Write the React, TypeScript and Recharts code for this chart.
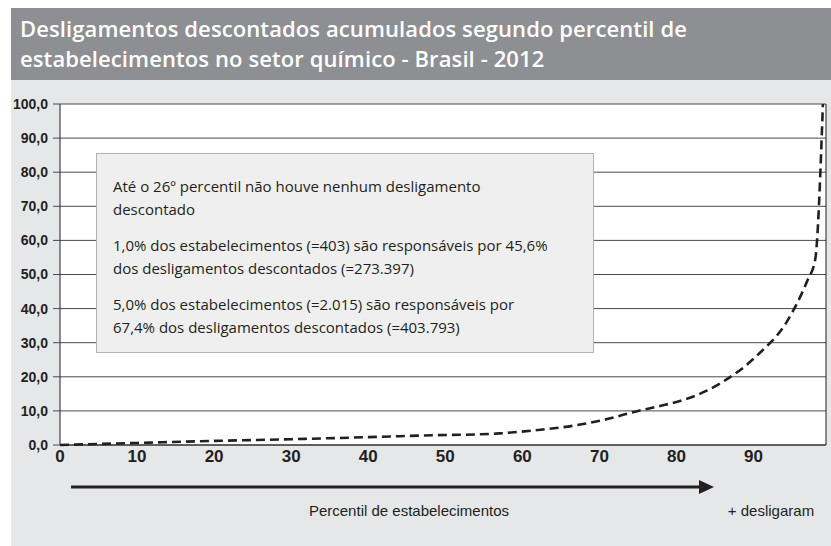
import React from "react";
import { LineChart, Line, XAxis, YAxis, CartesianGrid, ReferenceLine } from "recharts";

const percentis = [0, 10, 20, 30, 40, 49, 54, 57, 62, 67, 71, 75, 78, 81, 84, 87, 89, 90, 91, 92, 93, 94, 95, 96, 97, 98, 99];
const acumulado = [0, 0.6, 1.2, 1.7, 2.3, 2.9, 3.1, 3.4, 4.4, 5.8, 7.6, 10, 11.5, 13.3, 16, 20, 23.3, 25.3, 27.4, 29.6, 32, 35, 38.8, 43.2, 48.3, 54.4, 100];
const xTicks = [0, 10, 20, 30, 40, 50, 60, 70, 80, 90];
const yTicks = [0, 10, 20, 30, 40, 50, 60, 70, 80, 90, 100];

const titleLines = [
  "Desligamentos descontados acumulados segundo percentil de",
  "estabelecimentos no setor químico - Brasil - 2012",
];
const notes = [
  ["Até o 26º percentil não houve nenhum desligamento", "descontado"],
  ["1,0% dos estabelecimentos (=403) são responsáveis por 45,6%", "dos desligamentos descontados (=273.397)"],
  ["5,0% dos estabelecimentos (=2.015) são responsáveis por", "67,4% dos desligamentos descontados (=403.793)"],
];
const xAxisTitle = "Percentil de estabelecimentos";
const xAxisEnd = "+ desligaram";

const data = percentis.map((p, i) => ({ p, v: acumulado[i] }));

const fmtY = (v: number) => v.toFixed(1).replace(".", ",");

export default function App() {
  return (
    <div style={{ position: "absolute", left: 0, top: 0, width: 831, height: 546, background: "#fff", overflow: "hidden" }}>
      <div style={{ position: "absolute", left: 11, top: 8, width: 820, height: 72, background: "#8e8f92" }} />
      <div style={{ position: "absolute", left: 11, top: 80, width: 820, height: 466, background: "#e6e7e8" }} />
      <div
        style={{
          position: "absolute",
          left: 20,
          top: 13,
          color: "#fff",
          fontFamily: "'Open Sans', sans-serif",
          fontWeight: 600,
          fontSize: 22,
          lineHeight: "30px",
          letterSpacing: 0.1,
          whiteSpace: "nowrap",
        }}
      >
        {titleLines.map((t, i) => (
          <div key={i} style={{ height: 30 }}>{t}</div>
        ))}
      </div>
      <div style={{ position: "absolute", left: 0, top: 0 }}>
        <LineChart width={831} height={546} data={data} margin={{ top: 104, right: 5, bottom: 71, left: 10 }}>
          <CartesianGrid vertical={false} horizontal stroke="#4a4a4a" strokeWidth={1} fill="#ffffff" fillOpacity={1} />
          <XAxis
            dataKey="p"
            type="number"
            domain={[0, 99.4]}
            ticks={xTicks}
            interval={0}
            height={30}
            tickLine={false}
            tickSize={0}
            tickMargin={5}
            axisLine={{ stroke: "#231f20", strokeWidth: 1 }}
            tick={{ fill: "#231f20", fontSize: 17, fontWeight: 700, fontFamily: "'Liberation Sans Narrow', sans-serif" }}
          />
          <YAxis
            type="number"
            domain={[0, 100]}
            ticks={yTicks}
            interval={0}
            width={50}
            tickSize={7}
            tickMargin={5}
            tickFormatter={fmtY}
            tickLine={{ stroke: "#4a4a4a" }}
            axisLine={{ stroke: "#231f20", strokeWidth: 1 }}
            tick={{ fill: "#231f20", fontSize: 14, fontWeight: 700, fontFamily: "'Liberation Sans', sans-serif" }}
          />
          <ReferenceLine x={99.4} stroke="#231f20" strokeWidth={1} />
          <Line
            type="monotone"
            dataKey="v"
            stroke="#231f20"
            strokeWidth={2.6}
            strokeDasharray="9 5"
            dot={false}
            activeDot={false}
            isAnimationActive={false}
          />
        </LineChart>
      </div>
      <div
        style={{
          position: "absolute",
          left: 96,
          top: 153,
          width: 496,
          height: 198,
          background: "#efefef",
          border: "1px solid #b3b3b3",
          boxSizing: "content-box",
          fontFamily: "'Open Sans', sans-serif",
          fontSize: 15,
          lineHeight: "23px",
          color: "#231f20",
        }}
      >
        <div style={{ paddingLeft: 16, paddingTop: 21 }}>
          {notes.map((para, i) => (
            <div key={i} style={{ marginBottom: 13 }}>
              {para.map((l, j) => (
                <div key={j} style={{ whiteSpace: "nowrap" }}>{l}</div>
              ))}
            </div>
          ))}
        </div>
      </div>
      <svg style={{ position: "absolute", left: 0, top: 0 }} width={831} height={546}>
        <line x1={71} y1={487} x2={702} y2={487} stroke="#231f20" strokeWidth={3} />
        <polygon points="699,480 714,487 699,494" fill="#231f20" />
        <text x={409} y={516} textAnchor="middle" fontFamily="'Liberation Sans Narrow', sans-serif" fontSize={15} fill="#231f20">
          {xAxisTitle}
        </text>
        <text x={771} y={516} textAnchor="middle" fontFamily="'Liberation Sans Narrow', sans-serif" fontSize={15} fill="#231f20">
          {xAxisEnd}
        </text>
      </svg>
    </div>
  );
}
